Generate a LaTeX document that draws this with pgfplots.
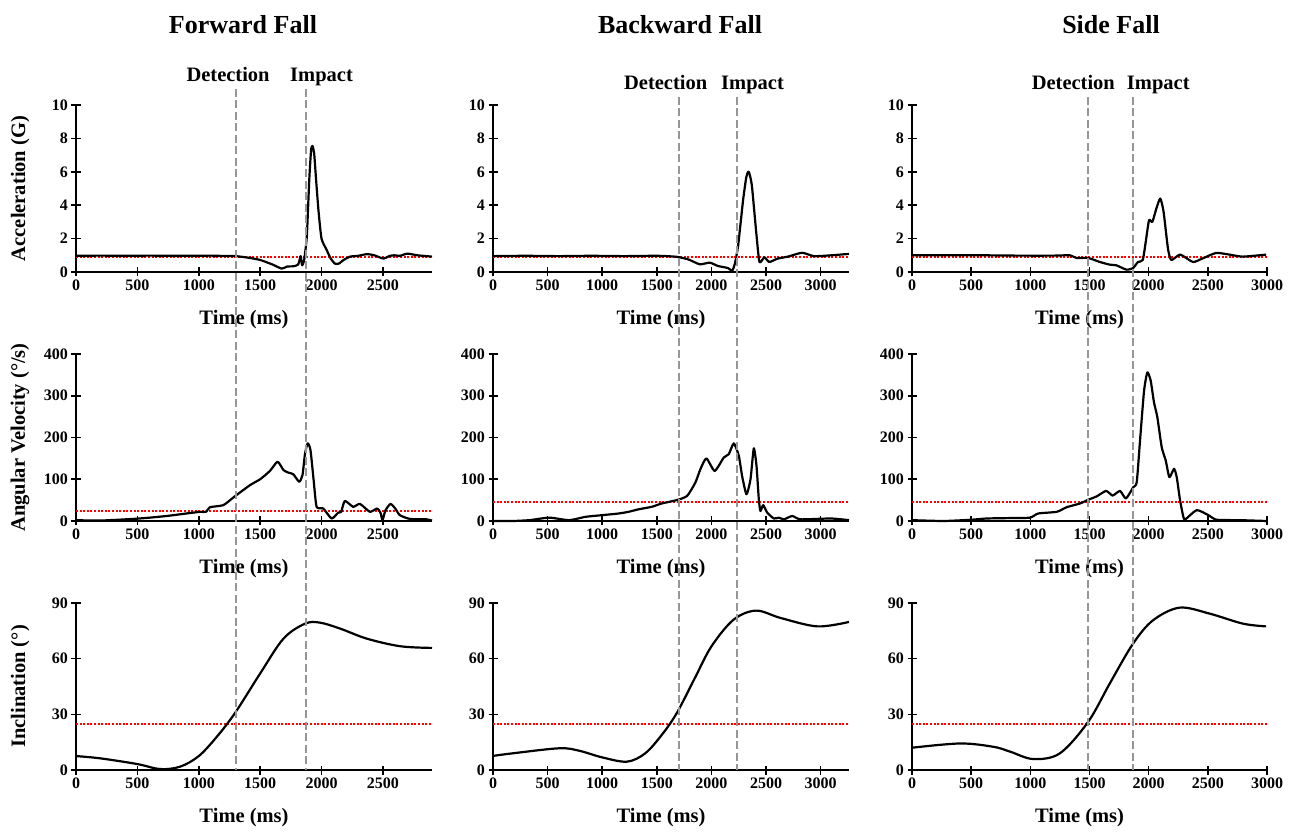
\documentclass[border=0pt]{standalone}
\usepackage{fontspec}
\setmainfont{Liberation Serif}
\usepackage{pgfplots}
\pgfplotsset{compat=1.18}
\definecolor{thrred}{RGB}{255,0,0}
\definecolor{vgray}{RGB}{150,150,150}
\newcommand\ticklab{\fontsize{16}{16}\selectfont\bfseries}
\newcommand\lab{\fontsize{20.5}{24}\selectfont\bfseries}
\newcommand\ttl{\fontsize{26}{30}\selectfont\bfseries}
\pgfplotsset{
  fallaxis/.style={
    scale only axis, width=356pt, height=167pt, anchor=south west,
    axis lines=left, axis line style={-, line width=2pt},
    xmin=0, ymin=0, clip=false,
    tick align=center, major tick length=9pt,
    tick style={line width=1.6pt, black},
    ticklabel style={font=\ticklab},
    /pgf/number format/assume math mode=true,
    /pgf/number format/set thousands separator={},
    xlabel={Time (ms)},
    xlabel style={font=\lab, at={(axis description cs:0.5,0)}, anchor=center, xshift=-10pt, yshift=-48pt},
    ylabel style={font=\lab, at={(axis description cs:-0.157,0.5)}, anchor=center},
  },
  curve/.style={draw=black, line width=2.2pt, line join=round, smooth, tension=0.35},
  thr/.style={draw=thrred, line width=2pt, dash pattern=on 2pt off 1.6pt},
}
\tikzset{vline/.style={draw=vgray, line width=2pt, dash pattern=on 8pt off 3.5pt}}
\begin{document}
\begin{tikzpicture}
\path[use as bounding box] (0,0) rectangle (1297pt,835pt);
% ---------------- Column 1: Forward Fall ----------------
\begin{axis}[fallaxis, at={(76pt,563pt)}, xmax=2900, ymax=10, xtick={0,500,...,2500}, ytick={0,2,...,10}, ylabel={Acceleration (G)}]
\addplot[thr] coordinates {(0,0.9) (2900,0.9)};
\addplot[curve] coordinates {(0,0.97) (200,0.98) (400,0.97) (600,0.98) (800,0.97) (1000,0.97) (1100,0.98) (1200,0.96) (1300,0.95) (1400,0.86) (1500,0.72) (1600,0.45) (1676,0.2) (1720,0.33) (1770,0.34) (1810,0.45) (1830,0.95) (1842,0.4) (1858,0.7) (1880,2.1) (1900,5.5) (1915,7.3) (1926,7.55) (1940,7.1) (1955,5.6) (1975,3.7) (2000,2.0) (2040,1.35) (2075,0.8) (2110,0.5) (2140,0.5) (2180,0.72) (2233,0.92) (2300,0.97) (2370,1.07) (2430,1.0) (2505,0.8) (2550,0.95) (2590,1.0) (2640,0.97) (2700,1.1) (2780,1.0) (2900,0.92)};
\coordinate (d1t) at (axis cs:1300,10);
\coordinate (i1t) at (axis cs:1870,10);
\end{axis}
\begin{axis}[fallaxis, at={(76pt,314pt)}, xmax=2900, ymax=400, xtick={0,500,...,2500}, ytick={0,100,...,400}, ylabel={Angular Velocity (°/s)}]
\addplot[thr] coordinates {(0,25) (2900,25)};
\addplot[curve] coordinates {(0,2) (196,1) (467,5) (600,8) (739,12) (900,18) (1010,22) (1060,22) (1091,33) (1200,38) (1289,58) (1418,86) (1500,100) (1580,120) (1642,142) (1690,122) (1729,116) (1770,112) (1818,94) (1845,110) (1865,160) (1887,186) (1910,170) (1935,100) (1960,34) (2014,30) (2082,6) (2136,20) (2160,22) (2190,48) (2258,34) (2313,41) (2394,22) (2453,30) (2480,20) (2497,2) (2520,25) (2562,41) (2600,30) (2638,14) (2720,5) (2855,4) (2900,1)};
\end{axis}
\begin{axis}[fallaxis, at={(76pt,65pt)}, xmax=2900, ymax=90, xtick={0,500,...,2500}, ytick={0,30,60,90}, ylabel={Inclination (°)}]
\addplot[thr] coordinates {(0,25) (2900,25)};
\addplot[curve, tension=0.55] coordinates {(0,7.5) (196,6.3) (500,3.2) (685,0.5) (848,1.8) (1000,7.5) (1147,17.9) (1296,30.8) (1500,52) (1690,70.8) (1867,78.9) (1989,79.4) (2152,76.2) (2369,70.8) (2641,66.7) (2900,65.8)};
\coordinate (d1b) at (axis cs:1300,0);
\coordinate (i1b) at (axis cs:1870,0);
\end{axis}
% ---------------- Column 2: Backward Fall ----------------
\begin{axis}[fallaxis, at={(493pt,563pt)}, xmax=3260, ymax=10, xtick={0,500,...,3000}, ytick={0,2,...,10}]
\addplot[thr] coordinates {(0,0.9) (3260,0.9)};
\addplot[curve] coordinates {(0,0.95) (300,0.97) (600,0.95) (900,0.97) (1200,0.95) (1500,0.97) (1682,0.91) (1790,0.75) (1894,0.46) (1985,0.56) (2060,0.36) (2150,0.24) (2190,0.08) (2215,0.5) (2245,1.6) (2290,4.3) (2320,5.7) (2342,6.0) (2370,5.2) (2410,2.4) (2440,0.6) (2485,0.88) (2530,0.6) (2606,0.8) (2700,0.92) (2830,1.15) (2940,0.95) (3100,1.0) (3233,1.07) (3260,1.07)};
\coordinate (d2t) at (axis cs:1700,10);
\coordinate (i2t) at (axis cs:2230,10);
\end{axis}
\begin{axis}[fallaxis, at={(493pt,314pt)}, xmax=3260, ymax=400, xtick={0,500,...,3000}, ytick={0,100,...,400}]
\addplot[thr] coordinates {(0,46) (3260,46)};
\addplot[curve] coordinates {(0,0) (182,0) (333,2) (515,8) (697,2) (848,10) (1000,14) (1151,18) (1242,22) (1333,28) (1454,34) (1545,42) (1682,50) (1777,60) (1853,92) (1899,124) (1954,150) (2030,120) (2113,152) (2159,160) (2205,186) (2251,156) (2281,108) (2321,64) (2358,100) (2388,174) (2413,132) (2434,52) (2449,24) (2474,38) (2511,20) (2572,6) (2618,8) (2664,4) (2740,12) (2817,4) (3092,6) (3260,2)};
\end{axis}
\begin{axis}[fallaxis, at={(493pt,65pt)}, xmax=3260, ymax=90, xtick={0,500,...,3000}, ytick={0,30,60,90}]
\addplot[thr] coordinates {(0,25) (3260,25)};
\addplot[curve, tension=0.55] coordinates {(0,7.6) (182,9) (606,11.7) (788,10.4) (1000,6.8) (1227,4.5) (1394,9) (1545,18.9) (1682,30.6) (1848,49.5) (2000,66.6) (2203,81) (2409,85.9) (2636,81.9) (2970,77.4) (3260,79.8)};
\coordinate (d2b) at (axis cs:1700,0);
\coordinate (i2b) at (axis cs:2230,0);
\end{axis}
% ---------------- Column 3: Side Fall ----------------
\begin{axis}[fallaxis, at={(912pt,563pt)}, width=355pt, xmax=3000, ymax=10, xtick={0,500,...,3000}, ytick={0,2,...,10}]
\addplot[thr] coordinates {(0,0.9) (3000,0.9)};
\addplot[curve] coordinates {(0,1.0) (300,1.0) (600,1.0) (900,0.98) (1200,0.98) (1334,1.0) (1390,0.84) (1489,0.84) (1587,0.6) (1671,0.44) (1727,0.4) (1812,0.14) (1868,0.24) (1910,0.6) (1950,0.72) (1975,1.8) (2003,3.1) (2031,3.0) (2065,3.8) (2098,4.4) (2126,3.6) (2163,1.4) (2191,0.72) (2267,1.04) (2374,0.6) (2458,0.82) (2570,1.14) (2683,1.04) (2795,0.92) (2992,1.04)};
\coordinate (d3t) at (axis cs:1490,10);
\coordinate (i3t) at (axis cs:1870,10);
\end{axis}
\begin{axis}[fallaxis, at={(912pt,314pt)}, width=355pt, xmax=3000, ymax=400, xtick={0,500,...,3000}, ytick={0,100,...,400}]
\addplot[thr] coordinates {(0,46) (3000,46)};
\addplot[curve] coordinates {(0,2) (267,0) (500,3) (632,6) (829,7) (997,8) (1067,18) (1223,22) (1307,33) (1420,42) (1490,51) (1561,59) (1640,72) (1696,61) (1758,72) (1808,54) (1870,81) (1899,93) (1927,193) (1961,312) (1989,356) (2017,336) (2045,284) (2073,249) (2110,177) (2144,145) (2175,105) (2214,125) (2237,105) (2265,50) (2293,10) (2310,4) (2406,26) (2504,14) (2575,3) (2772,2) (2997,0)};
\end{axis}
\begin{axis}[fallaxis, at={(912pt,65pt)}, width=355pt, xmax=3000, ymax=90, xtick={0,500,...,3000}, ytick={0,30,60,90}]
\addplot[thr] coordinates {(0,25) (3000,25)};
\addplot[curve, tension=0.55] coordinates {(0,12) (407,14.3) (688,12.5) (829,9.9) (1025,5.9) (1250,9) (1489,26) (1671,46.6) (1868,68.1) (2037,80.7) (2261,87.5) (2514,84.3) (2795,78.9) (2992,77.4)};
\coordinate (d3b) at (axis cs:1490,0);
\coordinate (i3b) at (axis cs:1870,0);
\end{axis}
% ---------------- event lines and labels ----------------
\draw[vline] ([yshift=16pt]d1t) -- (d1b);
\draw[vline] ([yshift=16pt]i1t) -- (i1b);
\draw[vline] ([yshift=8pt]d2t) -- (d2b);
\draw[vline] ([yshift=8pt]i2t) -- (i2b);
\draw[vline] ([yshift=8pt]d3t) -- (d3b);
\draw[vline] ([yshift=8pt]i3t) -- (i3b);
\node[font=\lab, anchor=base] at ([xshift=-7.5pt, yshift=23pt]d1t) {Detection};
\node[font=\lab, anchor=base] at ([xshift=16pt, yshift=23pt]i1t) {Impact};
\node[font=\lab, anchor=base] at ([xshift=-13pt, yshift=15pt]d2t) {Detection};
\node[font=\lab, anchor=base] at ([xshift=16pt, yshift=15pt]i2t) {Impact};
\node[font=\lab, anchor=base] at ([xshift=-15pt, yshift=15pt]d3t) {Detection};
\node[font=\lab, anchor=base] at ([xshift=25pt, yshift=15pt]i3t) {Impact};
% ---------------- titles ----------------
\node[font=\ttl] at (243pt,810pt) {Forward Fall};
\node[font=\ttl] at (680pt,810pt) {Backward Fall};
\node[font=\ttl] at (1111pt,810pt) {Side Fall};
\end{tikzpicture}
\end{document}
